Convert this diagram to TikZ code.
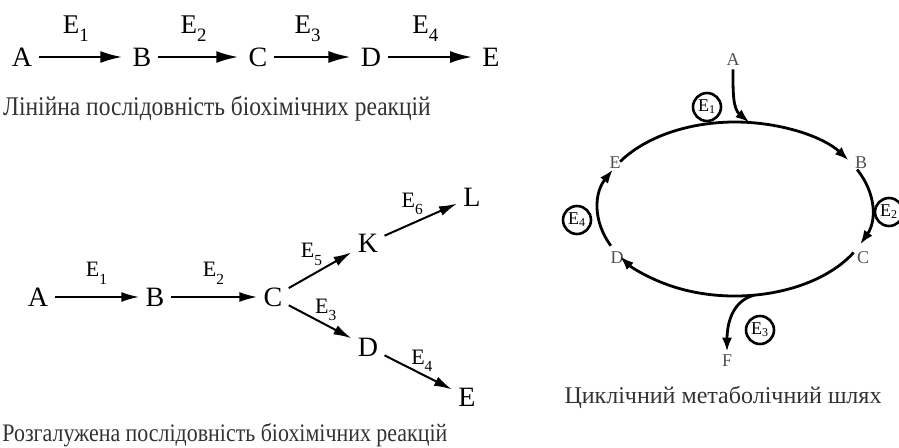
\documentclass[tikz,border=0pt]{standalone}
\usepackage{fontspec}
\setmainfont{Liberation Serif}
\newfontfamily\capfont[FakeStretch=0.87]{Liberation Serif}
\usetikzlibrary{arrows.meta,calc,positioning}
\definecolor{captext}{RGB}{50,50,50}
\definecolor{cyctext}{RGB}{80,80,80}
\newcommand{\esub}[1]{E\textsubscript{\raisebox{-2pt}{#1}}}

\begin{document}
\begin{tikzpicture}[
  x=0.5pt, y=0.5pt,
  sub/.style={inner sep=3pt, font=\fontsize{14}{16}\selectfont},
  enz/.style={inner sep=1pt, font=\fontsize{13.5}{15}\selectfont},
  enzs/.style={inner sep=1pt, font=\fontsize{11}{12}\selectfont},
  arr/.style={-{Latex[length=11pt,width=6pt]}, line width=1.1pt},
  arrs/.style={-{Latex[length=9pt,width=5pt]}, line width=1pt},
  cyc/.style={inner sep=1.5pt, text=cyctext, font=\fontsize{9}{10}\selectfont},
  circ/.style={draw, circle, line width=1.3pt, minimum size=14pt, inner sep=0pt, font=\fontsize{9}{10}\selectfont},
  carr/.style={-{Latex[length=7pt,width=5pt]}, line width=1.4pt},
  caption/.style={text=captext, font=\capfont\fontsize{13.5}{15}\selectfont}
]
\useasboundingbox (0,0) rectangle (899,447);
% linear chain
\node[sub] (la) at (22,390) {A};
\node[sub] (lb) at (142,390) {B};
\node[sub] (lc) at (258,390) {C};
\node[sub] (ld) at (371,390) {D};
\node[sub] (le) at (491,390) {E};
\draw[arr, shorten >=2pt] (la) -- (lb) node[enz, midway, above=6pt, xshift=-3pt] {\esub{1}};
\draw[arr, shorten >=2pt] (lb) -- (lc) node[enz, midway, above=6pt, xshift=-3pt] {\esub{2}};
\draw[arr, shorten >=2pt] (lc) -- (ld) node[enz, midway, above=6pt, xshift=-3pt] {\esub{3}};
\draw[arr, shorten >=2pt] (ld) -- (le) node[enz, midway, above=6pt, xshift=-3pt] {\esub{4}};
\node[caption] (lcap) at (217,338) {Лінійна послідовність біохімічних реакцій};

% branched chain
\node[sub] (ba) at (38,150) {A};
\node[sub] (bb) at (155,150) {B};
\node[sub] (bc) at (273,150) {C};
\node[sub] (bk) at (368,204) {K};
\node[sub] (bl) at (472,250) {L};
\node[sub] (bd) at (368,100) {D};
\node[sub] (be) at (467,50) {E};
\draw[arrs] (ba) -- (bb) node[enzs, midway, above=5pt] {\esub{1}};
\draw[arrs] (bb) -- (bc) node[enzs, midway, above=5pt] {\esub{2}};
\draw[arrs] (bc) -- (bk) node[enzs, midway, above left=1pt and -3pt] {\esub{5}};
\draw[arrs] (bk) -- (bl) node[enzs, midway, above left=1pt and -3pt] {\esub{6}};
\draw[arrs] (bc) -- (bd) node[enzs, midway, above right=-1pt and -4pt] {\esub{3}};
\draw[arrs] (bd) -- (be) node[enzs, midway, above right=-1pt and -5pt] {\esub{4}};
\node[caption, anchor=west, inner sep=1pt, font=\capfont\fontsize{12.6}{14}\selectfont] (bcap) at (0,12) {Розгалужена послідовність біохімічних реакцій};

% metabolic cycle
\coordinate (cc) at (735,238);
\node[cyc] (ca) at (733,387) {A};
\node[cyc] (cb) at (861,284) {B};
\node[cyc] (ck) at (863,189) {C};
\node[cyc] (cd) at (617,189) {D};
\node[cyc] (ce) at (615,284) {E};
\node[cyc] (cf) at (727,86) {F};
\draw[carr] (cc) ++(147:137 and 87) arc[start angle=147, end angle=34, x radius=137, y radius=87];
\draw[carr] (cc) ++(27:137 and 87) arc[start angle=27, end angle=-24, x radius=137, y radius=87];
\draw[carr] (cc) ++(-30:137 and 87) arc[start angle=-30, end angle=-147, x radius=137, y radius=87];
\draw[carr] (cc) ++(-155:137 and 87) arc[start angle=-155, end angle=-207, x radius=137, y radius=87];
\coordinate (cin) at ($(cc)+(84:137 and 87)$);
\coordinate (cout) at ($(cc)+(-82:137 and 87)$);
\draw[carr] (ca.south) to[out=-90, in=140] (cin);
\draw[carr] (cout) to[out=195, in=90] (cf.north);
\node[circ] (ce1) at (707,340) {E\textsubscript{1}};
\node[circ] (ce2) at (889,235) {E\textsubscript{2}};
\node[circ] (ce3) at (760,117) {E\textsubscript{3}};
\node[circ] (ce4) at (577,227) {E\textsubscript{4}};
\node[caption, font=\fontsize{12}{14}\selectfont] (ccap) at (723,50) {Циклічний метаболічний шлях};
\end{tikzpicture}
\end{document}
